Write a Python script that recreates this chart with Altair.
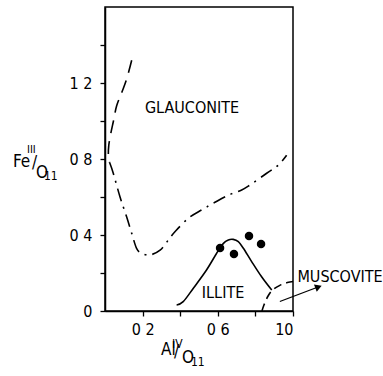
import altair as alt
import pandas as pd

FONT = "DejaVu Sans Condensed, Liberation Sans Narrow, Liberation Sans, sans-serif"

# Glauconite field boundary: upper branch (long dashes)
glc_top_x = [0.142, 0.115, 0.089, 0.062, 0.045, 0.030, 0.020, 0.018, 0.025]
glc_top_y = [1.32, 1.22, 1.15, 1.08, 1.00, 0.93, 0.87, 0.82, 0.78]
# Glauconite field boundary: lower branch (dash-dot)
glc_low_x = [0.025, 0.044, 0.080, 0.115, 0.142, 0.168, 0.195, 0.239, 0.293, 0.337,
             0.372, 0.443, 0.514, 0.576, 0.656, 0.727, 0.771, 0.860, 0.922, 0.966]
glc_low_y = [0.78, 0.725, 0.60, 0.496, 0.409, 0.33, 0.304, 0.295, 0.32, 0.374,
             0.417, 0.488, 0.532, 0.567, 0.61, 0.637, 0.663, 0.725, 0.768, 0.82]
# Illite field boundary (solid)
ill_x = [0.381, 0.416, 0.470, 0.540, 0.594, 0.630, 0.656, 0.682, 0.709, 0.736, 0.780, 0.833, 0.887]
ill_y = [0.032, 0.049, 0.120, 0.216, 0.304, 0.356, 0.374, 0.377, 0.365, 0.330, 0.260, 0.180, 0.110]
# Muscovite field boundary (dashed)
mus_x = [0.835, 0.845, 0.865, 0.890, 0.930, 0.970, 1.000]
mus_y = [0.000, 0.030, 0.075, 0.110, 0.135, 0.150, 0.155]
# Analysed samples
pt_x = [0.612, 0.686, 0.766, 0.830]
pt_y = [0.332, 0.300, 0.395, 0.353]
# Field names
lab_text = ["GLAUCONITE", "ILLITE", "MUSCOVITE"]
lab_x = [0.463, 0.628, 1.25]
lab_y = [1.068, 0.095, 0.179]
# Arrow towards the muscovite label
arr_x = [0.93, 1.13]
arr_y = [0.05, 0.125]

xs = alt.Scale(domain=[0, 1.0], nice=False, zero=False)
ys = alt.Scale(domain=[0, 1.6], nice=False, zero=False)

x_axis = alt.Axis(values=[0.2, 0.4, 0.6, 0.8, 1.0], title=None, grid=False,
                  labelExpr="round(datum.value*10)==2 ? '0 2' : round(datum.value*10)==6 ? '0 6' : round(datum.value*10)==10 ? '10' : ''")
y_axis = alt.Axis(values=[0, 0.2, 0.4, 0.6, 0.8, 1.0, 1.2, 1.4], title=None, grid=False,
                  labelExpr="round(datum.value*10)==0 ? '0' : round(datum.value*10)==4 ? '0 4' : round(datum.value*10)==8 ? '0 8' : round(datum.value*10)==12 ? '1 2' : ''")


def curve(xv, yv):
    return pd.DataFrame({"x": xv, "y": yv, "i": range(len(xv))})


def line_layer(df, dash=None, width=1.6):
    kw = dict(color="black", strokeWidth=width, interpolate="cardinal", clip=False)
    if dash:
        kw["strokeDash"] = dash
    return alt.Chart(df).mark_line(**kw).encode(
        x=alt.X("x:Q", scale=xs, axis=x_axis),
        y=alt.Y("y:Q", scale=ys, axis=y_axis),
        order="i:O",
    )


glc_top = line_layer(curve(glc_top_x, glc_top_y), dash=[13, 8])
glc_low = line_layer(curve(glc_low_x, glc_low_y), dash=[13, 6, 2, 6])
illite = line_layer(curve(ill_x, ill_y))
musc = line_layer(curve(mus_x, mus_y), dash=[8, 5])

arrow_df = curve(arr_x, arr_y)
arrow = alt.Chart(arrow_df).mark_line(color="black", strokeWidth=1.3, clip=False).encode(
    x=alt.X("x:Q", scale=xs), y=alt.Y("y:Q", scale=ys), order="i:O")
head = alt.Chart(arrow_df.iloc[[1]]).mark_point(
    shape="triangle", filled=True, color="black", size=60, angle=69, opacity=1, clip=False
).encode(x=alt.X("x:Q", scale=xs), y=alt.Y("y:Q", scale=ys))

pts = alt.Chart(pd.DataFrame({"x": pt_x, "y": pt_y})).mark_circle(
    color="black", size=72, opacity=1).encode(
    x=alt.X("x:Q", scale=xs), y=alt.Y("y:Q", scale=ys))

labels = alt.Chart(pd.DataFrame({"x": lab_x, "y": lab_y, "t": lab_text})).mark_text(
    font=FONT, fontSize=16, color="black", align="center", baseline="middle", clip=False
).encode(x=alt.X("x:Q", scale=xs), y=alt.Y("y:Q", scale=ys), text="t:N")

# Axis titles built from pieces (super/subscripts), offsets from the plot origin
title_pieces = pd.DataFrame({
    "t":  ["Fe", "III", "/", "O", "11", "Al", "IV", "/", "O", "11"],
    "px": [-92, -78, -73, -69, -61, 56, 67, 69, 77, 86],
    "py": [160, 146, 161, 171, 173, 348, 341, 350, 356, 359],
    "fs": [17, 11, 17, 17, 12, 17, 12, 17, 17, 12],
})
titles = alt.Chart(title_pieces).mark_text(
    font=FONT, color="black", align="left", baseline="alphabetic"
).encode(
    x=alt.X("px:Q", scale=None, axis=None),
    y=alt.Y("py:Q", scale=None, axis=None),
    text="t:N",
    size=alt.Size("fs:Q", scale=None, legend=None),
)

chart = alt.layer(glc_top, glc_low, illite, musc, arrow, head, pts, labels, titles).properties(
    width=188, height=304,
    autosize=alt.AutoSizeParams(type="none"),
    padding={"left": 105, "top": 7, "right": 90, "bottom": 65},
).configure_view(stroke="black", strokeWidth=1.5).configure_axis(
    domainColor="black", domainWidth=1.5, tickColor="black", tickWidth=1.3, tickSize=5,
    labelFont=FONT, labelFontSize=16, labelColor="black",
).configure_axisX(labelPadding=5).configure_axisY(labelPadding=8)

chart.save("out.html", embed_options={"renderer": "svg", "actions": False})
